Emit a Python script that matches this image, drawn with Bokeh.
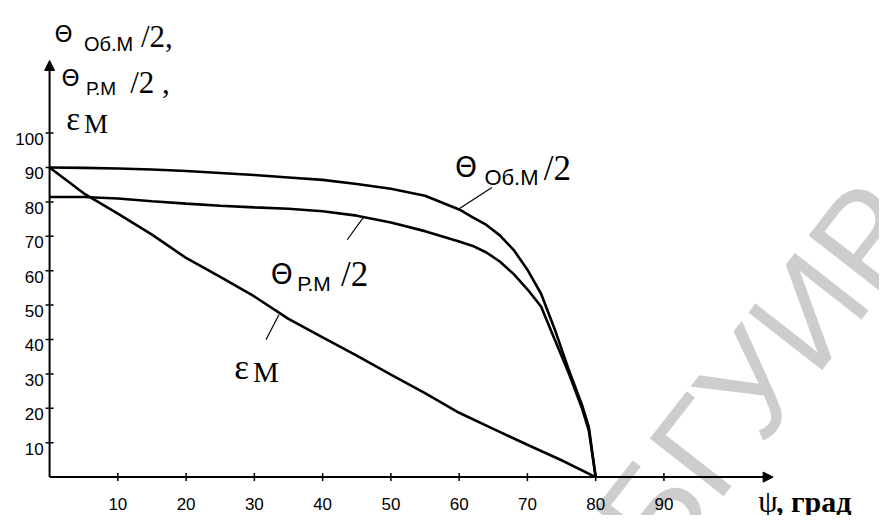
from bokeh.plotting import figure
from bokeh.models import Range1d, Arrow, NormalHead
from bokeh.embed import file_html
from bokeh.resources import INLINE
from bokeh.core.properties import value

# ---- data ----
psi = [0, 5, 10, 15, 20, 25, 30, 35, 40, 45, 50, 55, 60, 62, 64, 66, 68, 70, 72, 74, 76, 78, 79, 80]
theta_ob = [90.0, 89.9, 89.7, 89.4, 89.0, 88.4, 87.8, 87.1, 86.4, 85.2, 83.8, 81.8, 77.8,
            75.5, 73.3, 70.2, 66.0, 60.3, 53.3, 43.0, 31.5, 21.0, 14.5, 0.0]
theta_p = [81.4, 81.4, 81.0, 80.2, 79.5, 78.9, 78.4, 78.0, 77.3, 76.0, 74.0, 71.5, 68.5,
           67.2, 65.3, 62.6, 59.0, 54.6, 49.6, 40.0, 30.5, 20.0, 13.5, 0.0]
eps_psi = [0, 5, 10, 15, 20, 25, 30, 35, 40, 45, 50, 55, 60, 65, 70, 75, 80]
eps = [90.0, 82.5, 76.6, 70.5, 63.7, 58.2, 52.5, 46.0, 40.6, 35.3, 29.8, 24.4, 18.7,
       14.0, 9.4, 4.9, 0.0]
x_ticks = [10, 20, 30, 40, 50, 60, 70, 80, 90]
y_ticks = [10, 20, 30, 40, 50, 60, 70, 80, 90, 100]
x_tick_labels = [str(t) for t in x_ticks]
y_tick_labels = [str(t) for t in y_ticks]
x_axis_end = 106.0
y_axis_end = 121.1

# ---- figure ----
p = figure(width=879, height=515, output_backend="svg", toolbar_location=None,
           x_range=Range1d(-7.19, 121.58), y_range=Range1d(-11.16, 138.54),
           x_axis_location=None, y_axis_location=None, min_border=0)
p.outline_line_color = None
p.xgrid.visible = False
p.ygrid.visible = False
p.background_fill_color = "white"
p.border_fill_color = "white"

# watermark
p.text(x=[104.0], y=[30.0], text=["БГУИР"], angle=52, angle_units="deg",
       text_align="center", text_baseline="middle", text_color="#cdcdcd",
       text_font=value("Liberation Sans"), text_font_size="136px", level="underlay")

# axes with arrows
p.add_layout(Arrow(end=NormalHead(size=10, fill_color="black", line_color="black"),
                   x_start=0, y_start=0, x_end=x_axis_end, y_end=0,
                   line_width=2, line_color="black"))
p.add_layout(Arrow(end=NormalHead(size=10, fill_color="black", line_color="black"),
                   x_start=0, y_start=0, x_end=0, y_end=y_axis_end,
                   line_width=2, line_color="black"))

# ticks
p.scatter(x=[0] * len(y_ticks), y=y_ticks, marker="dash", size=8, line_width=1.5,
          line_color="black")
p.scatter(x=x_ticks, y=[0] * len(x_ticks), marker="dash", size=8, angle=90,
          angle_units="deg", line_width=1.5, line_color="black")

tick_font = value("Liberation Sans")
p.text(x=[0] * len(y_ticks), y=y_ticks, text=y_tick_labels, x_offset=-6, y_offset=6,
       text_align="right", text_baseline="alphabetic", text_font=tick_font,
       text_font_size="17px", text_color="black")
p.text(x=x_ticks, y=[0] * len(x_ticks), text=x_tick_labels, y_offset=27,
       text_align="center", text_baseline="alphabetic", text_font=tick_font,
       text_font_size="17px", text_color="black")

# curves
p.line(psi, theta_ob, line_width=2.6, line_color="black")
p.line(psi, theta_p, line_width=2.6, line_color="black")
p.line(eps_psi, eps, line_width=2.6, line_color="black")

# leader lines
p.line([64.8, 60.0], [84.2, 78.0], line_width=1.2, line_color="black")
p.line([46.0, 43.6], [75.6, 69.0], line_width=1.2, line_color="black")
p.line([33.6, 31.7], [47.2, 39.9], line_width=1.2, line_color="black")

sans = value("Liberation Sans")
serif = value("Liberation Serif")
theta_font = value("DejaVu Sans")


def txt(x, y, s, font, size, style="normal"):
    p.text(x=[x], y=[y], text=[s], text_font=font, text_font_size=size,
           text_font_style=style, text_align="left", text_baseline="alphabetic",
           text_color="black")


# axis title (top-left)
txt(0.72, 128.7, "Θ", theta_font, "23px")
txt(5.04, 125.9, "Об.М", sans, "20px")
txt(13.38, 128.1, "/2,", serif, "31px")
txt(1.73, 116.0, "Θ", theta_font, "23px")
txt(5.32, 112.9, "Р.М", sans, "19px")
txt(11.8, 114.6, "/2 ,", serif, "31px")
txt(2.45, 104.1, "ε", serif, "33px")
txt(5.04, 102.7, "М", serif, "27px")

# curve labels
txt(59.4, 90.05, "Θ", theta_font, "28px")
txt(63.7, 87.0, "Об.М", sans, "22px")
txt(72.4, 89.8, "/2", serif, "35px")

txt(32.4, 59.0, "Θ", theta_font, "28px")
txt(36.3, 56.2, "Р.М", sans, "21px")
txt(42.7, 59.0, "/2", serif, "35px")

txt(27.05, 32.0, "ε", serif, "35px")
txt(29.8, 30.6, "М", serif, "29px")

# x axis title
txt(103.8, -7.0, "ψ", serif, "31px")
txt(106.4, -7.0, ", град", serif, "30px", "bold")

open("out.html", "w").write(file_html(p, INLINE))
